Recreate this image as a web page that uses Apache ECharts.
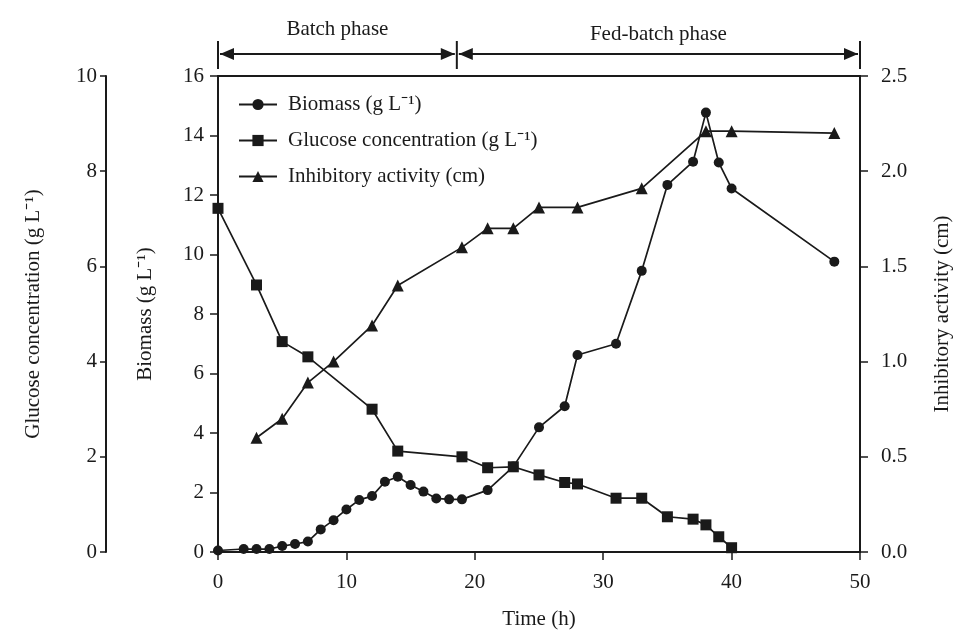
<!DOCTYPE html>
<html>
<head>
<meta charset="utf-8">
<script src="https://cdn.jsdelivr.net/npm/echarts@6/dist/echarts.min.js"></script>
<style>
html,body{margin:0;padding:0;background:#fff;}
#chart{width:962px;height:637px;}
</style>
</head>
<body>
<div id="chart"></div>
<script>
// ---- data ----
const biomassTime = [0,2,3,4,5,6,7,8,9,10,11,12,13,14,15,16,17,18,19,21,23,25,27,28,31,33,35,37,38,39,40,48];
const biomassValues = [0.05,0.1,0.1,0.1,0.2,0.27,0.35,0.76,1.07,1.43,1.75,1.88,2.36,2.53,2.25,2.03,1.8,1.77,1.77,2.08,2.87,4.19,4.9,6.62,7.0,9.45,12.34,13.12,14.77,13.09,12.22,9.76];

const glucoseTime = [0,3,5,7,12,14,19,21,23,25,27,28,31,33,35,37,38,39,40];
const glucoseValues = [7.22,5.61,4.42,4.10,3.00,2.12,2.00,1.77,1.79,1.62,1.46,1.43,1.13,1.13,0.74,0.69,0.57,0.32,0.09];

const activityTime = [3,5,7,9,12,14,19,21,23,25,28,33,38,40,48];
const activityValues = [0.6,0.7,0.89,1.0,1.19,1.4,1.6,1.7,1.7,1.81,1.81,1.91,2.21,2.21,2.2];

const seriesNames = ['Biomass (g L\u207B\u00B9)', 'Glucose concentration (g L\u207B\u00B9)', 'Inhibitory activity (cm)'];
const phaseNames = ['Batch phase', 'Fed-batch phase'];
const phaseBounds = [0, 18.6, 50];

const FONT = 'Liberation Serif';
const INK = '#1a1a1a';

function pairs(xs, ys){ return xs.map((x,i)=>[x, ys[i]]); }

const chart = echarts.init(document.getElementById('chart'), null, {renderer:'canvas'});

const axisCommon = {
  axisLine:{show:true, lineStyle:{color:INK, width:2}},
  axisTick:{show:true, length:8, lineStyle:{color:INK, width:1.5}},
  axisLabel:{color:INK, fontFamily:FONT, fontSize:21},
  splitLine:{show:false},
  nameTextStyle:{color:INK, fontFamily:FONT, fontSize:21},
  nameLocation:'middle',
  nameRotate:90
};

const lineStyle = {color:INK, width:1.7};

chart.setOption({
  animation:false,
  backgroundColor:'#fff',
  grid:{left:218, right:102, top:76, bottom:85},
  legend:{
    left:233, top:89, orient:'vertical',
    itemWidth:38, itemHeight:14, itemGap:15,
    textStyle:{color:INK, fontFamily:FONT, fontSize:21, padding:[0,0,0,6]},
    data: seriesNames
  },
  xAxis:[
    {type:'value', min:0, max:50, interval:10, position:'bottom',
     axisLine:{show:true, onZero:false, lineStyle:{color:INK, width:2}},
     axisTick:{show:true, length:8, lineStyle:{color:INK, width:1.5}},
     axisLabel:{color:INK, fontFamily:FONT, fontSize:21, margin:20},
     splitLine:{show:false},
     name:'Time (h)', nameLocation:'middle', nameGap:57,
     nameTextStyle:{color:INK, fontFamily:FONT, fontSize:21}},
    {type:'value', min:0, max:50, position:'top',
     axisLine:{show:true, onZero:false, lineStyle:{color:INK, width:2}},
     axisTick:{show:false}, axisLabel:{show:false}, splitLine:{show:false}}
  ],
  yAxis:[
    Object.assign({}, axisCommon, {type:'value', min:0, max:16, interval:2, position:'left',
      name:'Biomass (g L\u207B\u00B9)', nameGap:62,
      axisLine:{show:true, onZero:false, lineStyle:{color:INK, width:2}},
      axisLabel:{color:INK, fontFamily:FONT, fontSize:21, margin:14}}),
    Object.assign({}, axisCommon, {type:'value', min:0, max:10, interval:2, position:'left', offset:112,
      name:'Glucose concentration (g L\u207B\u00B9)', nameGap:62,
      axisLine:{show:true, onZero:false, lineStyle:{color:INK, width:2}},
      axisLabel:{color:INK, fontFamily:FONT, fontSize:21, margin:9},
      axisTick:{show:true, length:6, lineStyle:{color:INK, width:1.5}}}),
    Object.assign({}, axisCommon, {type:'value', min:0, max:2.5, interval:0.5, position:'right',
      name:'Inhibitory activity (cm)', nameGap:72,
      axisLine:{show:true, onZero:false, lineStyle:{color:INK, width:2}},
      axisLabel:{color:INK, fontFamily:FONT, fontSize:21, margin:21,
        formatter:v=>v.toFixed(1)}})
  ],
  series:[
    {name:seriesNames[0], type:'line', xAxisIndex:0, yAxisIndex:0,
     data:pairs(biomassTime, biomassValues),
     symbol:'circle', symbolSize:10, showAllSymbol:true,
     lineStyle:lineStyle, itemStyle:{color:INK}},
    {name:seriesNames[1], type:'line', xAxisIndex:0, yAxisIndex:1,
     data:pairs(glucoseTime, glucoseValues),
     symbol:'rect', symbolSize:11, showAllSymbol:true,
     lineStyle:lineStyle, itemStyle:{color:INK}},
    {name:seriesNames[2], type:'line', xAxisIndex:0, yAxisIndex:2,
     data:pairs(activityTime, activityValues),
     symbol:'triangle', symbolSize:12, showAllSymbol:true,
     lineStyle:lineStyle, itemStyle:{color:INK}}
  ]
});

// ---- phase arrows above the plot ----
const px = phaseBounds.map(v => chart.convertToPixel({xAxisIndex:0}, v));
const yArrow = 54, head = 14, hw = 6;
const g = [];
px.forEach(x => g.push({type:'line', shape:{x1:x, y1:41, x2:x, y2:69}, style:{stroke:INK, lineWidth:2}}));
for (let i = 0; i < 2; i++) {
  const a = px[i] + 2, b = px[i+1] - 2;
  g.push({type:'line', shape:{x1:a, y1:yArrow, x2:b, y2:yArrow}, style:{stroke:INK, lineWidth:2}});
  g.push({type:'polygon', shape:{points:[[a,yArrow],[a+head,yArrow-hw],[a+head,yArrow+hw]]}, style:{fill:INK}});
  g.push({type:'polygon', shape:{points:[[b,yArrow],[b-head,yArrow-hw],[b-head,yArrow+hw]]}, style:{fill:INK}});
  g.push({type:'text', x:(px[i]+px[i+1])/2, y: i === 0 ? 29 : 34,
    style:{text:phaseNames[i], fill:INK, font:'21px "Liberation Serif"', align:'center', verticalAlign:'middle'}});
}
chart.setOption({graphic:g});
</script>
</body>
</html>
